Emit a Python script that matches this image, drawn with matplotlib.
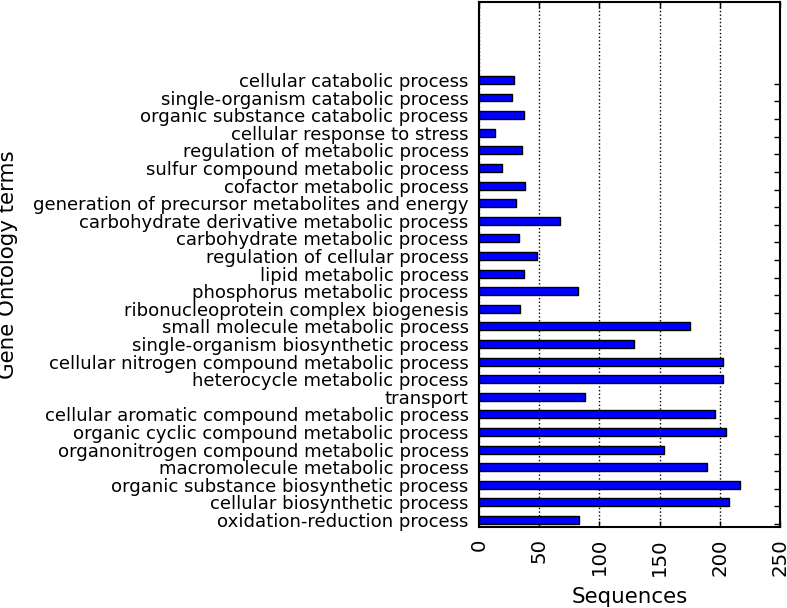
import matplotlib
matplotlib.use("Agg")
import matplotlib.pyplot as plt
import numpy as np

terms = [
    'oxidation-reduction process',
    'cellular biosynthetic process',
    'organic substance biosynthetic process',
    'macromolecule metabolic process',
    'organonitrogen compound metabolic process',
    'organic cyclic compound metabolic process',
    'cellular aromatic compound metabolic process',
    'transport',
    'heterocycle metabolic process',
    'cellular nitrogen compound metabolic process',
    'single-organism biosynthetic process',
    'small molecule metabolic process',
    'ribonucleoprotein complex biogenesis',
    'phosphorus metabolic process',
    'lipid metabolic process',
    'regulation of cellular process',
    'carbohydrate metabolic process',
    'carbohydrate derivative metabolic process',
    'generation of precursor metabolites and energy',
    'cofactor metabolic process',
    'sulfur compound metabolic process',
    'regulation of metabolic process',
    'cellular response to stress',
    'organic substance catabolic process',
    'single-organism catabolic process',
    'cellular catabolic process',
]

sequences = [83, 208, 217, 189, 154, 205, 196, 88, 203, 203, 129, 175, 34,
             82, 37, 48, 33, 67, 31, 38, 19, 36, 13, 37, 27, 29]

xticks = [0, 50, 100, 150, 200, 250]

fig = plt.figure(figsize=(7.87, 6.08), dpi=100)
ax = fig.add_axes([0.6087, 0.1332, 0.3823, 0.8635])

pos = np.arange(len(terms))
bar_h = 0.45
ax.barh(pos, sequences, height=bar_h, align='edge', color='blue',
        edgecolor='black', linewidth=1.0, zorder=2)

ax.set_xlim(0, 250)
ax.set_ylim(-0.17, 29.65)
ax.set_xticks(xticks)
ax.set_xticklabels([str(t) for t in xticks], rotation=90, fontsize=14.2)

# labels sit at bar centres, tick marks at bar edges on the right side
ax.set_yticks(pos + bar_h / 2)
ax.set_yticklabels(terms, fontsize=13.1)
ax.set_yticks(pos, minor=True)
ax.tick_params(axis='y', which='major', left=False, right=False, pad=4)
ax.tick_params(axis='y', which='minor', direction='in', length=4, width=1,
               left=False, right=True)

ax.tick_params(axis='x', direction='in', length=4, width=1, top=True, pad=8)
ax.xaxis.grid(True, linestyle=':', color='black', linewidth=1.0, zorder=0)
ax.set_axisbelow(True)
for s in ax.spines.values():
    s.set_linewidth(1.5)

ax.set_xlabel("Sequences", fontsize=15.4, labelpad=8)
ax.set_ylabel("Gene Ontology terms", fontsize=15.4)
ax.yaxis.set_label_coords(-1.532, 0.5)

fig.savefig("out.png", dpi=100)
